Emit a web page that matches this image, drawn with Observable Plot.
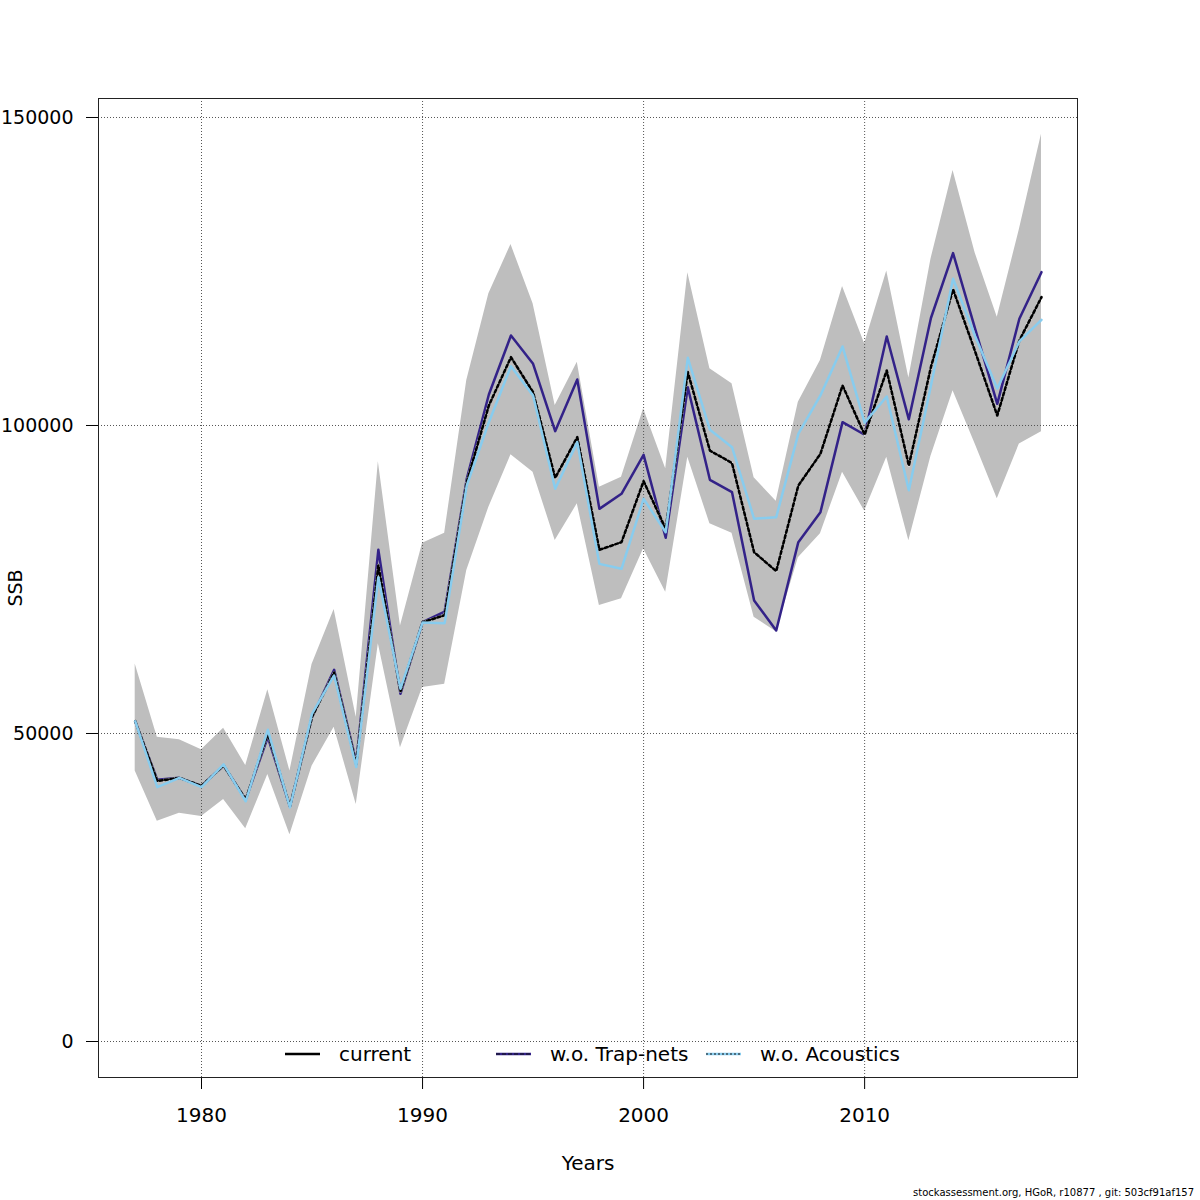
<!DOCTYPE html>
<html>
<head>
<meta charset="utf-8">
<script src="https://cdn.jsdelivr.net/npm/d3@7"></script>
<script src="https://cdn.jsdelivr.net/npm/@observablehq/plot@0.6"></script>
<style>
  html, body { margin: 0; padding: 0; background: white; }
  #wrap { position: relative; width: 1200px; height: 1200px; font-family: "DejaVu Sans", sans-serif; }
  .leg { position: absolute; top: 1041px; height: 26px; display: flex; align-items: center; font-size: 20px; color: #000; }
  .leg svg { margin-right: 19px; }
  #foot { position: absolute; right: 6px; top: 1187px; font-size: 10px; color: #000; }
</style>
</head>
<body>
<div id="wrap"></div>
<script>
const years = d3.range(1977, 2019);
const current = [52000, 42300, 42800, 41500, 44800, 39300, 50000, 38150, 52700, 59900,
  45000, 77300, 56800, 68070, 69200, 90800, 103250, 111090, 105410, 91500,
  98110, 79820, 81060, 90970, 83220, 108660, 95940, 93890, 79430, 76350,
  90260, 95400, 106490, 98500, 108930, 93510, 109500, 122100, 112000, 101620,
  113800, 120830];
const trapnets = [52000, 42500, 42800, 41500, 44800, 39300, 49400, 38150, 52650, 60340,
  45350, 79820, 56440, 68070, 69800, 91340, 105030, 114610, 110010, 99080,
  107470, 86470, 88910, 95240, 81770, 106220, 91180, 89180, 71590, 66720,
  81060, 85930, 100540, 98500, 114450, 101000, 117450, 127980, 115700, 103520,
  117320, 124890];
const acoustics = [52000, 41290, 42800, 41300, 45000, 39000, 50600, 38000, 53200, 59420,
  44550, 75380, 57260, 68000, 67910, 90260, 100540, 109630, 104870, 89720,
  97300, 77540, 76730, 88100, 82680, 110990, 99300, 96480, 84850, 85120,
  98650, 104870, 112830, 100460, 104710, 89500, 106500, 123820, 114500, 106000,
  113650, 117160];
const lower = [43900, 35770, 37070, 36530, 39290, 34520, 43350, 33550, 44700, 51030,
  38470, 64560, 47680, 57470, 58000, 76460, 86740, 95240, 92430, 81330,
  87280, 70780, 71860, 79980, 72940, 94860, 84040, 82520, 68880, 66500,
  78520, 82420, 92430, 86100, 94860, 81300, 95000, 105650, 97000, 88100,
  97000, 99000];
const upper = [61300, 49400, 48970, 47350, 50870, 44800, 57090, 43900, 61200, 70130,
  52650, 94100, 67450, 80900, 82520, 107300, 121380, 129380, 119750, 103250,
  110280, 89990, 91610, 102710, 92970, 124780, 109200, 106770, 91500, 87720,
  103790, 110550, 122570, 113260, 125100, 107700, 127000, 141400, 128000, 117590,
  131800, 147300];
const xTicks = [1980, 1990, 2000, 2010];
const yTicks = [0, 50000, 100000, 150000];
const seriesNames = ["current", "w.o. Trap-nets", "w.o. Acoustics"];
const seriesColors = ["#000000", "#332288", "#88CCEE"];

const band = years.map((y, i) => ({year: y, lo: lower[i], hi: upper[i]}));
const mk = arr => years.map((y, i) => ({year: y, v: arr[i]}));

const chart = Plot.plot({
  width: 1200,
  height: 1200,
  marginLeft: 98,
  marginRight: 123,
  marginTop: 98,
  marginBottom: 123,
  style: {fontFamily: "DejaVu Sans, sans-serif", fontSize: "20px", background: "white", color: "black"},
  x: {domain: [1975.34, 2019.63], ticks: xTicks, tickFormat: d3.format("d")},
  y: {domain: [-5844, 153084], ticks: yTicks, tickFormat: d3.format("d")},
  marks: [
    Plot.areaY(band, {x: "year", y1: "lo", y2: "hi", fill: "#bebebe"}),
    Plot.gridX(xTicks, {stroke: "#555", strokeOpacity: 1, strokeDasharray: "1,2"}),
    Plot.gridY(yTicks, {stroke: "#555", strokeOpacity: 1, strokeDasharray: "1,2"}),
    Plot.lineY(mk(trapnets), {x: "year", y: "v", stroke: seriesColors[1], strokeWidth: 2.5}),
    Plot.lineY(mk(current), {x: "year", y: "v", stroke: "#e4e4e4", strokeWidth: 2.6}),
    Plot.lineY(mk(current), {x: "year", y: "v", stroke: seriesColors[0], strokeWidth: 2.6, strokeDasharray: "3,2.5"}),
    Plot.lineY(mk(acoustics), {x: "year", y: "v", stroke: seriesColors[2], strokeWidth: 2.5}),
    Plot.axisX({ticks: xTicks, tickFormat: d3.format("d"), tickSize: 12, tickPadding: 18,
      label: "Years", labelAnchor: "center", labelOffset: 92, labelArrow: "none"}),
    Plot.axisY({ticks: yTicks, tickFormat: d3.format("d"), tickSize: 12, tickPadding: 13, fontSize: 19,
      label: "SSB", labelAnchor: "center", labelOffset: 90, labelArrow: "none"}),
    Plot.frame({stroke: "#222"})
  ]
});

const wrap = document.getElementById("wrap");
wrap.appendChild(chart);

// legend (inside plot area, bottom)
const legLeft = [285, 496, 706];
const dashes = [null, "4,2", "2,2"];
seriesNames.forEach((name, i) => {
  const d = document.createElement("div");
  d.className = "leg";
  d.style.left = legLeft[i] + "px";
  const dash = dashes[i] ? `<line x1="0" y1="6" x2="35" y2="6" stroke="#111" stroke-width="1" stroke-dasharray="${dashes[i]}"/>` : "";
  d.innerHTML = `<svg width="35" height="12"><line x1="0" y1="6" x2="35" y2="6" stroke="${seriesColors[i]}" stroke-width="2.5"/>${dash}</svg><span>${name}</span>`;
  wrap.appendChild(d);
});

const foot = document.createElement("div");
foot.id = "foot";
foot.textContent = "stockassessment.org, HGoR, r10877 , git: 503cf91af157";
wrap.appendChild(foot);
</script>
</body>
</html>
